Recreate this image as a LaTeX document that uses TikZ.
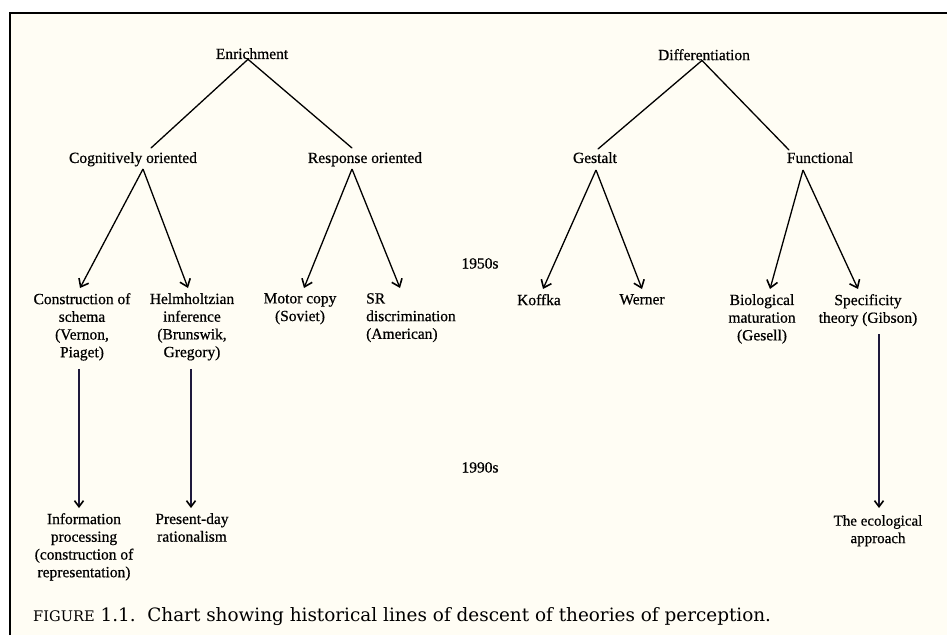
\documentclass[tikz,border=0pt]{standalone}
\usepackage{fontspec}
\setmainfont{Liberation Serif}[FakeBold=0.6]
\newfontfamily\capfont{DejaVu Serif}
\usetikzlibrary{arrows.meta}
\definecolor{paper}{HTML}{FFFDF4}
\definecolor{shaft}{RGB}{30,25,60}
\begin{document}
\begin{tikzpicture}[x=1pt,y=-1pt,
  lbl/.style={inner sep=0pt, anchor=north, align=center, font=\fontsize{15.5}{17.7}\selectfont},
  lnk/.style={line width=1.3pt, line cap=round},
  arr/.style={line width=1.3pt, -{Straight Barb[length=7pt,width=11pt,line width=1.6pt]}},
  varr/.style={line width=1.2pt, draw=shaft, -{Straight Barb[length=6pt,width=9pt,color=black,line width=1.6pt]}},
  frame/.style={line width=2.4pt, draw=black}
]
\useasboundingbox (0,0) rectangle (947,635);
\fill[white] (0,0) rectangle (947,635);
\fill[paper] (10,13) rectangle (947,635);
\draw[frame] (10,635) -- (10,13) -- (947,13);

% top level
\node[lbl] (enr) at (252,48) {Enrichment};
\node[lbl] (dif) at (704,49) {Differentiation};
% second level
\node[lbl] (cog) at (133,152) {Cognitively oriented};
\node[lbl] (res) at (365,152) {Response oriented};
\node[lbl] (ges) at (595,152) {Gestalt};
\node[lbl] (fun) at (820,152) {Functional};
% third level
\node[lbl] (con) at (82,293) {Construction of\\schema\\(Vernon,\\Piaget)};
\node[lbl] (hel) at (192,293) {Helmholtzian\\inference\\(Brunswik,\\Gregory)};
\node[lbl] (mot) at (300,293) {Motor copy\\(Soviet)};
\node[lbl, anchor=north west, align=left] (srd) at (366,293) {SR\\discrimination\\(American)};
\node[lbl] (kof) at (539,294) {Koffka};
\node[lbl] (wer) at (642,294) {Werner};
\node[lbl] (bio) at (762,294) {Biological\\maturation\\(Gesell)};
\node[lbl] (spe) at (868,294) {Specificity\\theory (Gibson)};
% decades
\node[lbl] (d50) at (480,258) {1950s};
\node[lbl] (d90) at (480,462) {1990s};
% bottom level
\node[lbl] (inf) at (84,513) {Information\\processing\\(construction of\\representation)};
\node[lbl] (pre) at (192,513) {Present-day\\rationalism};
\node[lbl, font=\fontsize{15}{17.5}\selectfont] (eco) at (878,515) {The ecological\\approach};

% caption
\node[inner sep=0pt, anchor=base west] (cap) at (33,621)
  {\capfont\fontsize{18.4}{21}\selectfont{\fontsize{14.6}{18}\selectfont FIGURE} 1.1.\ \ Chart showing historical lines of descent of theories of perception.};

% tree lines
\draw[lnk] ([xshift=-4pt]enr.south) -- ([xshift=18pt,yshift=4pt]cog.north);
\draw[lnk] ([xshift=-4pt]enr.south) -- ([xshift=-13pt,yshift=4pt]res.north);
\draw[lnk] ([xshift=-2pt]dif.south) -- ([xshift=3pt,yshift=3pt]ges.north);
\draw[lnk] ([xshift=-2pt]dif.south) -- ([xshift=-31pt,yshift=2pt]fun.north);

\draw[arr] ([xshift=10pt,yshift=-17pt]cog.north) -- ([xshift=-2pt,yshift=5pt]con.north);
\draw[arr] ([xshift=10pt,yshift=-17pt]cog.north) -- ([xshift=-4pt,yshift=5pt]hel.north);
\draw[arr] ([xshift=-13pt,yshift=-17pt]res.north) -- ([xshift=4pt,yshift=5pt]mot.north);
\draw[arr] ([xshift=-13pt,yshift=-17pt]res.north) -- ([xshift=34pt,yshift=5pt]srd.north west);
\draw[arr] ([xshift=1pt,yshift=-18pt]ges.north) -- ([xshift=4pt,yshift=5pt]kof.north);
\draw[arr] ([xshift=1pt,yshift=-18pt]ges.north) -- ([xshift=0pt,yshift=5pt]wer.north);
\draw[arr] ([xshift=-17pt,yshift=-18pt]fun.north) -- ([xshift=8pt,yshift=5pt]bio.north);
\draw[arr] ([xshift=-17pt,yshift=-18pt]fun.north) -- ([xshift=-10pt,yshift=5pt]spe.north);

% vertical descent arrows
\draw[varr] ([xshift=-3pt,yshift=-8pt]con.south) -- ([xshift=-5pt,yshift=5pt]inf.north);
\draw[varr] ([xshift=-1pt,yshift=-8pt]hel.south |- con.south) -- ([xshift=-1pt,yshift=5pt]pre.north);
\draw[varr] ([xshift=11pt,yshift=-8pt]spe.south) -- ([xshift=1pt,yshift=7pt]eco.north);
\end{tikzpicture}
\end{document}
